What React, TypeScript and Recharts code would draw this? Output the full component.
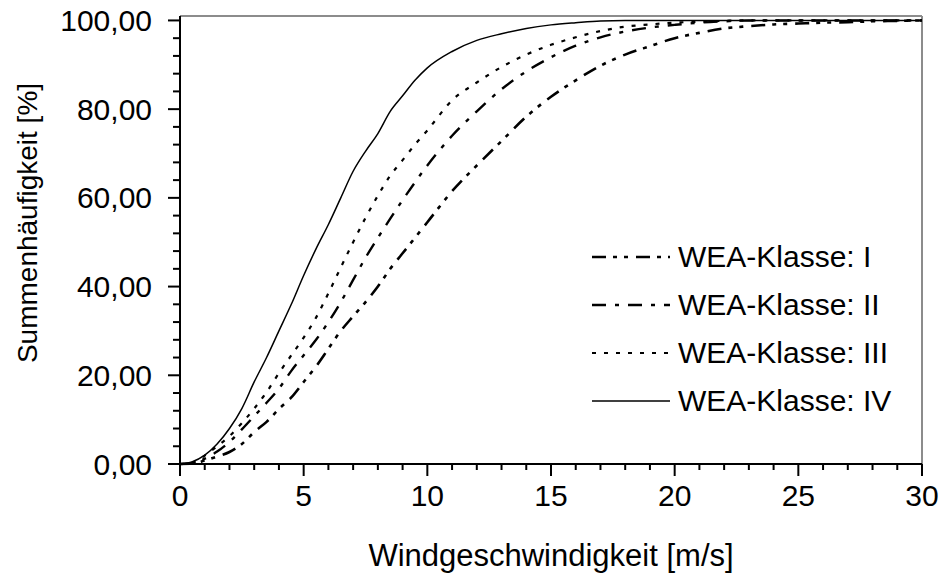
import { LineChart, Line, XAxis, YAxis, ReferenceLine, Legend } from "recharts";

const speeds = [
  0, 0.5, 1, 1.5, 2, 2.5, 3, 3.5, 4, 4.5, 5, 5.5, 6, 6.5, 7, 7.5, 8, 8.5, 9, 9.5, 10,
  11, 12, 13, 14, 15, 16, 17, 18, 19, 20, 21, 22, 23, 24, 25, 26, 27, 28, 29, 30,
];

const klasseI = [
  0, 0.1, 0.8, 1.7, 2.7, 4.5, 7.2, 9.5, 12.4, 15, 18.5, 22, 26, 30, 33.3, 36.5, 40, 44, 47.5, 51, 54.5,
  61.5, 67.3, 72.8, 78.3, 82.8, 86.5, 89.8, 92.3, 94.2, 96, 97.2, 98.2, 98.7, 99.1, 99.3, 99.5, 99.6, 99.8, 99.9, 100,
];

const klasseII = [
  0, 0.2, 1.2, 2.8, 5, 7.8, 10.8, 13.8, 17, 21, 24.5, 28, 32, 36.5, 41.5, 46.5, 51, 55.3, 59.5, 63.5, 67.3,
  74, 79.5, 84.5, 88.5, 91.7, 94.3, 96.2, 97.5, 98.4, 99, 99.5, 99.8, 100, 100, 100, 100, 100, 100, 100, 100,
];

const klasseIII = [
  0, 0.3, 1.9, 4, 6.3, 9.2, 12.5, 16.2, 20.5, 24.5, 28.5, 33, 38.5, 44.3, 50, 55.5, 60.5, 65, 68.5, 72, 75.2,
  82, 86, 89.5, 92.3, 94.5, 96.2, 97.6, 98.6, 99.1, 99.5, 99.7, 99.9, 100, 100, 100, 100, 100, 100, 100, 100,
];

const klasseIV = [
  0, 0.5, 2, 4.5, 8, 12.5, 18.5, 24, 30, 36, 42.5, 48.5, 54, 60, 66, 70.5, 74.5, 79.5, 83, 86.5, 89.3,
  93, 95.5, 97, 98.2, 99, 99.5, 99.9, 100, 100, 100, 100, 100, 100, 100, 100, 100, 100, 100, 100, 100,
];

const seriesNames = ["WEA-Klasse: I", "WEA-Klasse: II", "WEA-Klasse: III", "WEA-Klasse: IV"];

const xTicks = Array.from({ length: 31 }, (_, i) => i);
const yTicks = Array.from({ length: 26 }, (_, i) => i * 4);

const FONT = '"Liberation Sans", Arial, sans-serif';

const lineStyles = [
  { key: "k1", width: 2.6, dash: "14 7 4 7 4 8" },
  { key: "k2", width: 2.4, dash: "14 9 4 9" },
  { key: "k3", width: 2.2, dash: "4 8" },
  { key: "k4", width: 1.5, dash: undefined as string | undefined },
];

const rows = speeds.map((s, i) => ({
  speed: s,
  k1: klasseI[i],
  k2: klasseII[i],
  k3: klasseIII[i],
  k4: klasseIV[i],
}));

function XTick({ x, y, payload }: any) {
  const major = payload.value % 5 === 0;
  return (
    <g>
      <line x1={x} x2={x} y1={y} y2={y + (major ? 12 : 6)} stroke="#000" strokeWidth={2} />
      {major && (
        <text x={x} y={y + 31} textAnchor="middle" dominantBaseline="central" fontSize={30} fontFamily={FONT} fill="#000">
          {payload.value}
        </text>
      )}
    </g>
  );
}

function YTick({ x, y, payload }: any) {
  const major = payload.value % 20 === 0;
  return (
    <g>
      <line x1={x - (major ? 12 : 7)} x2={x} y1={y} y2={y} stroke="#000" strokeWidth={2} />
      {major && (
        <text x={x - 28} y={y} textAnchor="end" dominantBaseline="central" fontSize={30} fontFamily={FONT} fill="#000">
          {payload.value.toFixed(2).replace(".", ",")}
        </text>
      )}
    </g>
  );
}

function renderLegend() {
  return (
    <div style={{ fontFamily: FONT, fontSize: 30, color: "#000" }}>
      {seriesNames.map((name, i) => (
        <div key={name} style={{ display: "flex", alignItems: "center", height: 48 }}>
          <svg width={86} height={10} style={{ flexShrink: 0 }}>
            <line x1={0} x2={78} y1={5} y2={5} stroke="#000" strokeWidth={lineStyles[i].width} strokeDasharray={lineStyles[i].dash} />
          </svg>
          <span style={{ whiteSpace: "nowrap" }}>{name}</span>
        </div>
      ))}
    </div>
  );
}

export default function App() {
  return (
    <div style={{ position: "absolute", left: 0, top: 0, width: 940, height: 580, background: "#fff" }}>
      <LineChart width={940} height={580} data={rows} margin={{ top: 16, right: 18, left: 0, bottom: 0 }}>
        <ReferenceLine y={101} stroke="#8c8c8c" strokeWidth={2} />
        <ReferenceLine x={30} stroke="#8c8c8c" strokeWidth={2} />
        <XAxis
          type="number"
          dataKey="speed"
          domain={[0, 30]}
          ticks={xTicks}
          interval={0}
          tick={<XTick />}
          tickLine={false}
          tickSize={0}
          tickMargin={0}
          height={116}
          axisLine={{ stroke: "#000", strokeWidth: 2 }}
          label={({ viewBox }: any) => (
            <text
              x={viewBox.x + viewBox.width / 2}
              y={viewBox.y + 91}
              textAnchor="middle"
              dominantBaseline="central"
              fontSize={31}
              fontFamily={FONT}
              fill="#000"
            >
              Windgeschwindigkeit [m/s]
            </text>
          )}
        />
        <YAxis
          type="number"
          domain={[0, 101]}
          ticks={yTicks}
          interval={0}
          tick={<YTick />}
          tickLine={false}
          tickSize={0}
          tickMargin={0}
          width={180}
          axisLine={{ stroke: "#000", strokeWidth: 2 }}
          label={({ viewBox }: any) => (
            <text
              x={27}
              y={viewBox.y + viewBox.height / 2 - 17}
              transform={`rotate(-90, 27, ${viewBox.y + viewBox.height / 2 - 17})`}
              textAnchor="middle"
              dominantBaseline="central"
              fontSize={28}
              fontFamily={FONT}
              fill="#000"
            >
              Summenhäufigkeit [%]
            </text>
          )}
        />
        {lineStyles.map((s, i) => (
          <Line
            key={s.key}
            type="monotone"
            dataKey={s.key}
            name={seriesNames[i]}
            stroke="#000"
            strokeWidth={s.width}
            strokeDasharray={s.dash}
            dot={false}
            activeDot={false}
            isAnimationActive={false}
          />
        ))}
        <Legend
          layout="vertical"
          align="center"
          verticalAlign="middle"
          content={renderLegend}
          wrapperStyle={{ position: "absolute", left: 592, top: 233, width: 340 }}
        />
      </LineChart>
    </div>
  );
}
